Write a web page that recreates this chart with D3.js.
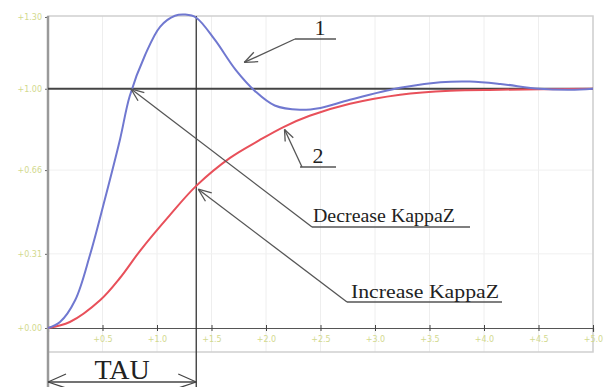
<!DOCTYPE html>
<html><head><meta charset="utf-8">
<script src="https://cdn.jsdelivr.net/npm/d3@7"></script>
<style>body{margin:0;background:#fff}svg{display:block}</style>
</head><body><svg id="c" width="612" height="387"></svg>
<script>
const xTicks = [0.5,1,1.5,2,2.5,3,3.5,4,4.5,5];
const xTickLabels = ["+0.5","+1.0","+1.5","+2.0","+2.5","+3.0","+3.5","+4.0","+4.5","+5.0"];
const yTicks = [0, 0.31, 0.66, 1.0, 1.3];
const yTickLabels = ["+0.00","+0.31","+0.66","+1.00","+1.30"];
const setpoint = 1.0;
const tau = 1.36;
// curve 1 (blue)
const blueX = [0,0.11,0.25,0.385,0.52,0.66,0.75,0.89,1.03,1.165,1.26,1.36,1.53,1.72,1.9,2.08,2.31,2.5,2.77,3.23,3.6,3.87,4.15,4.51,4.79,5];
const blueY = [0,0.025,0.117,0.305,0.535,0.787,0.97,1.14,1.26,1.305,1.31,1.297,1.205,1.08,0.99,0.93,0.912,0.92,0.954,1.004,1.027,1.03,1.02,1.0,0.996,1.0];
// curve 2 (red)
const redX = [0,0.2,0.48,0.66,0.85,1.12,1.36,1.67,1.94,2.16,2.4,2.77,3.23,3.69,4.15,5];
const redY = [0,0.025,0.117,0.209,0.326,0.473,0.594,0.711,0.785,0.84,0.887,0.937,0.975,0.992,0.996,1.0];

const svg = d3.select("#c");
const x = d3.scaleLinear().domain([0,5]).range([48,593]);
const y = d3.scaleLinear().domain([0,1.3]).range([328,17]);

// faint grid
svg.append("g").selectAll("line").data(xTicks).join("line")
  .attr("x1",d=>x(d)).attr("x2",d=>x(d)).attr("y1",16).attr("y2",352)
  .attr("stroke","#eeeeee").attr("stroke-width",1);
svg.append("g").selectAll("line").data(yTicks.slice(1,3)).join("line")
  .attr("x1",48).attr("x2",593).attr("y1",d=>y(d)).attr("y2",d=>y(d))
  .attr("stroke","#f0f0f0").attr("stroke-width",1);

// frame
svg.append("rect").attr("x",48).attr("y",16).attr("width",545).attr("height",336)
  .attr("fill","none").attr("stroke","#cfcfcf").attr("stroke-width",1.5);

// x axis
const xAxis = d3.axisBottom(x).tickValues(xTicks).tickSize(4).tickFormat((d,i)=>xTickLabels[i]);
const gx = svg.append("g").attr("transform","translate(0,328)").call(xAxis);
gx.select(".domain").attr("stroke","#555").attr("stroke-width",1.2);
gx.selectAll(".tick line").attr("stroke","#444").attr("y1",-3).attr("y2",3);
gx.selectAll("text").attr("fill","#d2d98e").attr("font-size",8).attr("font-family","DejaVu Sans").attr("dy","0.9em");

// y axis
const yAxis = d3.axisLeft(y).tickValues(yTicks).tickSize(3).tickFormat((d,i)=>yTickLabels[i]);
const gy = svg.append("g").attr("transform","translate(48,0)").call(yAxis);
gy.select(".domain").remove();
gy.selectAll(".tick line").attr("stroke","#666");
gy.selectAll("text").attr("fill","#d2d98e").attr("font-size",8).attr("font-family","DejaVu Sans").attr("x",-6);

// left axis thick
svg.append("line").attr("x1",48).attr("x2",48).attr("y1",16).attr("y2",387)
  .attr("stroke","#9a9a9a").attr("stroke-width",2.5);
// setpoint line
svg.append("line").attr("x1",48).attr("x2",593).attr("y1",y(setpoint)).attr("y2",y(setpoint))
  .attr("stroke","#444").attr("stroke-width",2);
// tau line
svg.append("line").attr("x1",x(tau)).attr("x2",x(tau)).attr("y1",16).attr("y2",387)
  .attr("stroke","#333").attr("stroke-width",1.3);

const line = d3.line().x(d=>x(d[0])).y(d=>y(d[1])).curve(d3.curveCatmullRom);
svg.append("path").attr("d",line(redX.map((v,i)=>[v,redY[i]])))
  .attr("fill","none").attr("stroke","#e8505a").attr("stroke-width",2);
svg.append("path").attr("d",line(blueX.map((v,i)=>[v,blueY[i]])))
  .attr("fill","none").attr("stroke","#7078d0").attr("stroke-width",2);

// annotations
function arrow(x1,y1,x2,y2,len){
  const a = Math.atan2(y1-y2,x1-x2), s=0.38;
  svg.append("line").attr("x1",x1).attr("y1",y1).attr("x2",x2).attr("y2",y2).attr("stroke","#555").attr("stroke-width",1.3);
  [a+s,a-s].forEach(b=>svg.append("line").attr("x1",x2).attr("y1",y2)
    .attr("x2",x2+len*Math.cos(b)).attr("y2",y2+len*Math.sin(b)).attr("stroke","#555").attr("stroke-width",1.3));
}
function hline(x1,x2,yy){svg.append("line").attr("x1",x1).attr("x2",x2).attr("y1",yy).attr("y2",yy).attr("stroke","#555").attr("stroke-width",1.3);}
function label(t,xx,yy,fs,anchor,w){const e=svg.append("text").attr("x",xx).attr("y",yy).attr("font-family","Liberation Serif").attr("font-size",fs).attr("fill","#222").attr("text-anchor",anchor||"start").text(t); if(w) e.attr("textLength",w).attr("lengthAdjust","spacingAndGlyphs");}

// 1
arrow(295,39,x(1.8),y(1.11),14); hline(295,336,39); label("1",320,35,22,"middle");
// 2
arrow(302,167,x(2.17),y(0.83),12); hline(300,336,167); label("2",318,163,22,"middle");
// Decrease
arrow(312,227,x(0.76),y(1.0),14); hline(312,470,227); label("Decrease KappaZ",313,222,18,"start",142);
// Increase
arrow(347,302,x(tau)+2,y(0.58),14); hline(347,502,302); label("Increase KappaZ",351,298,18,"start",148);
// TAU
svg.append("line").attr("x1",48).attr("x2",x(tau)).attr("y1",382).attr("y2",382).attr("stroke","#444").attr("stroke-width",1.3);
[[48,1],[x(tau),-1]].forEach(([px,dir])=>{
  svg.append("line").attr("x1",px).attr("y1",382).attr("x2",px+dir*18).attr("y2",374).attr("stroke","#444").attr("stroke-width",1.3);
  svg.append("line").attr("x1",px).attr("y1",382).attr("x2",px+dir*18).attr("y2",388).attr("stroke","#444").attr("stroke-width",1.3);
});
label("TAU",(48+x(tau))/2,379,28,"middle");
</script></body></html>
